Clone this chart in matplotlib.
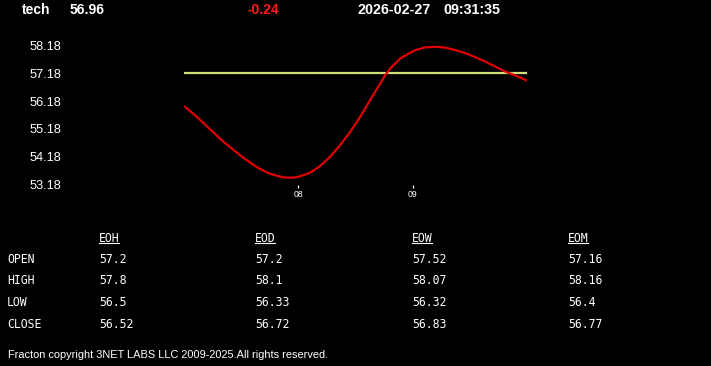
import matplotlib
matplotlib.use("Agg")
import matplotlib.pyplot as plt
from matplotlib.lines import Line2D

# ---------------- data ----------------
symbol = "tech"
last_price = "56.96"
change = "-0.24"
date_str = "2026-02-27"
time_str = "09:31:35"

# red curve (hour of day, price)
curve_hours = [7.006, 7.050, 7.094, 7.138, 7.182, 7.225, 7.269, 7.313, 7.357, 7.401,
               7.445, 7.489, 7.532, 7.576, 7.620, 7.664, 7.708, 7.752, 7.796, 7.839,
               7.883, 7.927, 7.971, 8.015, 8.103, 8.190, 8.278, 8.366, 8.454, 8.541,
               8.629, 8.717, 8.761, 8.804, 8.892, 8.980, 9.024, 9.111, 9.199, 9.287,
               9.375, 9.462, 9.550, 9.638, 9.725, 9.813, 9.901, 10.0]
curve_values = [55.975, 55.83, 55.675, 55.51, 55.34, 55.17, 55.00, 54.83, 54.67, 54.52,
                54.37, 54.23, 54.09, 53.97, 53.84, 53.73, 53.64, 53.55, 53.50, 53.45,
                53.42, 53.41, 53.42, 53.46, 53.59, 53.83, 54.17, 54.59, 55.07, 55.61,
                56.22, 56.82, 57.12, 57.36, 57.72, 57.93, 58.02, 58.12, 58.14, 58.11,
                58.02, 57.91, 57.76, 57.60, 57.42, 57.24, 57.10, 56.92]

ref_level = 57.18
ref_hours = [7.0, 10.0]

ytick_values = [53.18, 54.18, 55.18, 56.18, 57.18, 58.18]
ytick_labels = ["53.18", "54.18", "55.18", "56.18", "57.18", "58.18"]
xtick_values = [8, 9]
xtick_labels = ["08", "09"]

table_columns = ["EOH", "EOD", "EOW", "EOM"]
table_rows = ["OPEN", "HIGH", "LOW", "CLOSE"]
eoh = ["57.2", "57.8", "56.5", "56.52"]
eod = ["57.2", "58.1", "56.33", "56.72"]
eow = ["57.52", "58.07", "56.32", "56.83"]
eom = ["57.16", "58.16", "56.4", "56.77"]
table_values = [eoh, eod, eow, eom]

footer = "Fracton copyright 3NET LABS LLC 2009-2025.All rights reserved."

# ---------------- figure ----------------
W, H = 711, 366
fig = plt.figure(figsize=(W / 100, H / 100), dpi=100, facecolor="black")


def fx(x):
    return x / W


def fy(y):
    return 1 - y / H


sans = ["Liberation Sans", "DejaVu Sans"]
mono = ["DejaVu Sans Mono"]

# header
fig.text(fx(22), fy(9.5), symbol, color="white", fontsize=10, fontweight="bold",
         family=sans, ha="left", va="center")
fig.text(fx(69.5), fy(9.5), last_price, color="white", fontsize=10, fontweight="bold",
         family=sans, ha="left", va="center")
fig.text(fx(247), fy(9.5), change, color="#ff1a1a", fontsize=10, fontweight="bold",
         family=sans, ha="left", va="center")
fig.text(fx(358), fy(9.5), date_str, color="white", fontsize=10.3, fontweight="bold",
         family=sans, ha="left", va="center")
fig.text(fx(443), fy(9.5), time_str, color="white", fontsize=10.3, fontweight="bold",
         family=sans, ha="left", va="center")

# chart axes
left, right, top, bottom = 184, 527, 30, 185
ax = fig.add_axes([fx(left), fy(bottom), (right - left) / W, (bottom - top) / H])
ax.set_facecolor("black")
for s in ax.spines.values():
    s.set_visible(False)

ax.plot(ref_hours, [ref_level, ref_level], color="#d2dc78", lw=1.6, solid_capstyle="butt")
ax.plot(curve_hours, curve_values, color="#e00000", lw=1.6, solid_joinstyle="round",
        solid_capstyle="round")

ax.set_xlim(7.0, 10.0)
ax.set_ylim(53.146, 58.747)

ax.set_yticks(ytick_values)
ax.set_yticklabels(ytick_labels)
ax.tick_params(axis="y", length=0, pad=88.5, labelcolor="white", labelsize=9.2)
for lab in ax.get_yticklabels():
    lab.set_family(sans)

ax.set_xticks(xtick_values)
ax.set_xticklabels(xtick_labels)
ax.tick_params(axis="x", length=2.4, width=0.9, color="white", labelcolor="white",
               labelsize=6.2, pad=1.2)
for lab in ax.get_xticklabels():
    lab.set_family(sans)

# table
col_x = [99, 255, 412, 568]
header_y = 238.5
row_y = [259.3, 280.5, 302.3, 324.3]
header_texts = []
for cx, name in zip(col_x, table_columns):
    t = fig.text(fx(cx), fy(header_y), name, color="white", fontsize=8.3, family=mono,
                 ha="left", va="center")
    header_texts.append(t)
for ry, rname in zip(row_y, table_rows):
    fig.text(fx(7), fy(ry), rname, color="white", fontsize=8.3, family=mono,
             ha="left", va="center")
for cx, col in zip(col_x, table_values):
    for ry, val in zip(row_y, col):
        fig.text(fx(cx), fy(ry), val, color="white", fontsize=8.3, family=mono,
                 ha="left", va="center")

fig.canvas.draw()
renderer = fig.canvas.get_renderer()
for t in header_texts:
    bb = t.get_window_extent(renderer)
    yline = fy(243)
    fig.add_artist(Line2D([bb.x0 / W, (bb.x1 - 1) / W], [yline, yline], color="white", lw=0.8))

# footer
fig.text(fx(8), fy(355), footer, color="white", fontsize=7.9, family=sans,
         ha="left", va="center")

fig.savefig("out.png", dpi=100, facecolor="black")
